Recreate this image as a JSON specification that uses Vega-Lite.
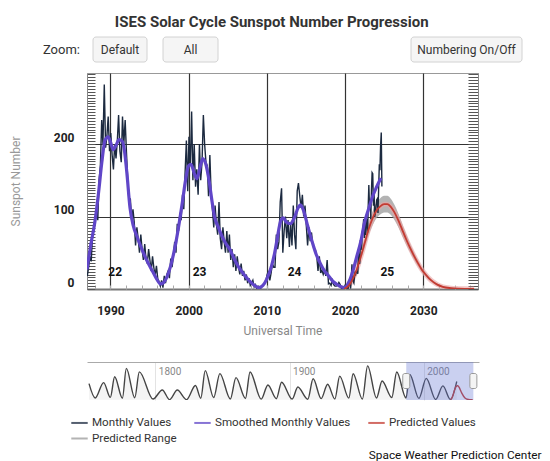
{
  "$schema": "https://vega.github.io/schema/vega-lite/v6.json",
  "padding": {"left": 8, "top": 14, "right": 0, "bottom": 0},
  "title": {"text": "Space Weather Prediction Center", "orient": "bottom", "anchor": "end", "frame": "bounds", "fontSize": 11.8, "fontWeight": "normal", "color": "#111", "offset": 5, "dx": 19},
  "datasets": {
    "monthly": [
      {"t":1987.04,"v":18},{"t":1987.21,"v":30},{"t":1987.38,"v":45},{"t":1987.54,"v":38},{"t":1987.71,"v":75},{"t":1987.88,"v":80},
      {"t":1988.04,"v":95},{"t":1988.21,"v":110},{"t":1988.38,"v":95},{"t":1988.54,"v":150},{"t":1988.71,"v":170},{"t":1988.88,"v":233},
      {"t":1989.04,"v":200},{"t":1989.21,"v":282},{"t":1989.38,"v":195},{"t":1989.54,"v":210},{"t":1989.71,"v":238},{"t":1989.88,"v":190},
      {"t":1990.04,"v":215},{"t":1990.21,"v":185},{"t":1990.38,"v":165},{"t":1990.54,"v":200},{"t":1990.71,"v":180},{"t":1990.88,"v":205},
      {"t":1991.04,"v":240},{"t":1991.21,"v":190},{"t":1991.38,"v":175},{"t":1991.54,"v":238},{"t":1991.71,"v":200},{"t":1991.88,"v":233},
      {"t":1992.04,"v":190},{"t":1992.21,"v":150},{"t":1992.38,"v":119},{"t":1992.54,"v":125},{"t":1992.71,"v":95},{"t":1992.88,"v":110},
      {"t":1993.04,"v":92},{"t":1993.21,"v":60},{"t":1993.38,"v":85},{"t":1993.54,"v":70},{"t":1993.71,"v":50},{"t":1993.88,"v":75},
      {"t":1994.04,"v":55},{"t":1994.21,"v":40},{"t":1994.38,"v":62},{"t":1994.54,"v":42},{"t":1994.71,"v":35},{"t":1994.88,"v":55},
      {"t":1995.04,"v":40},{"t":1995.21,"v":25},{"t":1995.38,"v":45},{"t":1995.54,"v":30},{"t":1995.71,"v":18},{"t":1995.88,"v":32},
      {"t":1996.04,"v":15},{"t":1996.21,"v":10},{"t":1996.38,"v":4},{"t":1996.54,"v":12},{"t":1996.71,"v":2},{"t":1996.88,"v":18},
      {"t":1997.04,"v":8},{"t":1997.21,"v":20},{"t":1997.38,"v":25},{"t":1997.54,"v":15},{"t":1997.71,"v":42},{"t":1997.88,"v":30},
      {"t":1998.04,"v":45},{"t":1998.21,"v":65},{"t":1998.38,"v":50},{"t":1998.54,"v":90},{"t":1998.71,"v":80},{"t":1998.88,"v":105},
      {"t":1999.04,"v":95},{"t":1999.21,"v":130},{"t":1999.38,"v":110},{"t":1999.54,"v":160},{"t":1999.71,"v":205},{"t":1999.88,"v":135},
      {"t":2000.04,"v":210},{"t":2000.21,"v":170},{"t":2000.38,"v":245},{"t":2000.54,"v":150},{"t":2000.71,"v":200},{"t":2000.88,"v":141},
      {"t":2001.04,"v":165},{"t":2001.21,"v":130},{"t":2001.38,"v":200},{"t":2001.54,"v":150},{"t":2001.71,"v":175},{"t":2001.88,"v":240},
      {"t":2002.04,"v":200},{"t":2002.21,"v":175},{"t":2002.38,"v":170},{"t":2002.54,"v":128},{"t":2002.71,"v":185},{"t":2002.88,"v":130},
      {"t":2003.04,"v":110},{"t":2003.21,"v":85},{"t":2003.38,"v":115},{"t":2003.54,"v":90},{"t":2003.71,"v":75},{"t":2003.88,"v":120},
      {"t":2004.04,"v":70},{"t":2004.21,"v":55},{"t":2004.38,"v":85},{"t":2004.54,"v":65},{"t":2004.71,"v":50},{"t":2004.88,"v":80},
      {"t":2005.04,"v":50},{"t":2005.21,"v":75},{"t":2005.38,"v":40},{"t":2005.54,"v":55},{"t":2005.71,"v":30},{"t":2005.88,"v":48},
      {"t":2006.04,"v":25},{"t":2006.21,"v":45},{"t":2006.38,"v":30},{"t":2006.54,"v":20},{"t":2006.71,"v":35},{"t":2006.88,"v":18},
      {"t":2007.04,"v":25},{"t":2007.21,"v":12},{"t":2007.38,"v":20},{"t":2007.54,"v":8},{"t":2007.71,"v":15},{"t":2007.88,"v":5},
      {"t":2008.04,"v":8},{"t":2008.21,"v":12},{"t":2008.38,"v":3},{"t":2008.54,"v":6},{"t":2008.71,"v":1},{"t":2008.88,"v":4},
      {"t":2009.04,"v":2},{"t":2009.21,"v":1},{"t":2009.38,"v":4},{"t":2009.54,"v":6},{"t":2009.71,"v":8},{"t":2009.88,"v":12},
      {"t":2010.04,"v":20},{"t":2010.21,"v":25},{"t":2010.38,"v":12},{"t":2010.54,"v":22},{"t":2010.71,"v":35},{"t":2010.88,"v":30},
      {"t":2011.04,"v":30},{"t":2011.21,"v":75},{"t":2011.38,"v":55},{"t":2011.54,"v":65},{"t":2011.71,"v":120},{"t":2011.88,"v":139},
      {"t":2012.04,"v":50},{"t":2012.21,"v":80},{"t":2012.38,"v":100},{"t":2012.54,"v":70},{"t":2012.71,"v":95},{"t":2012.88,"v":58},
      {"t":2013.04,"v":90},{"t":2013.21,"v":60},{"t":2013.38,"v":115},{"t":2013.54,"v":75},{"t":2013.71,"v":55},{"t":2013.88,"v":135},
      {"t":2014.04,"v":146},{"t":2014.21,"v":128},{"t":2014.38,"v":112},{"t":2014.54,"v":130},{"t":2014.71,"v":100},{"t":2014.88,"v":115},
      {"t":2015.04,"v":88},{"t":2015.21,"v":60},{"t":2015.38,"v":85},{"t":2015.54,"v":66},{"t":2015.71,"v":78},{"t":2015.88,"v":60},
      {"t":2016.04,"v":56},{"t":2016.21,"v":54},{"t":2016.38,"v":45},{"t":2016.54,"v":25},{"t":2016.71,"v":45},{"t":2016.88,"v":22},
      {"t":2017.04,"v":26},{"t":2017.21,"v":20},{"t":2017.38,"v":25},{"t":2017.54,"v":18},{"t":2017.71,"v":40},{"t":2017.88,"v":7},
      {"t":2018.04,"v":8},{"t":2018.21,"v":5},{"t":2018.38,"v":12},{"t":2018.54,"v":6},{"t":2018.71,"v":4},{"t":2018.88,"v":4},
      {"t":2019.04,"v":5},{"t":2019.21,"v":9},{"t":2019.38,"v":6},{"t":2019.54,"v":1},{"t":2019.71,"v":1},{"t":2019.88,"v":1},
      {"t":2020.04,"v":6.2},{"t":2020.13,"v":0.2},{"t":2020.21,"v":1.5},{"t":2020.29,"v":5.2},{"t":2020.38,"v":0.2},{"t":2020.46,"v":5.8},{"t":2020.54,"v":6.1},{"t":2020.63,"v":7.5},{"t":2020.71,"v":0.6},{"t":2020.79,"v":14.4},{"t":2020.88,"v":34},{"t":2020.96,"v":21.8},
      {"t":2021.04,"v":10.4},{"t":2021.13,"v":8.2},{"t":2021.21,"v":17.2},{"t":2021.29,"v":24.5},{"t":2021.38,"v":21.2},{"t":2021.46,"v":25},{"t":2021.54,"v":23.4},{"t":2021.63,"v":21.1},{"t":2021.71,"v":51.3},{"t":2021.79,"v":37.4},{"t":2021.88,"v":34.8},{"t":2021.96,"v":67.5},
      {"t":2022.04,"v":54},{"t":2022.13,"v":59.7},{"t":2022.21,"v":78.5},{"t":2022.29,"v":84.1},{"t":2022.38,"v":96.5},{"t":2022.46,"v":70.5},{"t":2022.54,"v":91.4},{"t":2022.63,"v":74.6},{"t":2022.71,"v":96},{"t":2022.79,"v":95.5},{"t":2022.88,"v":77.6},{"t":2022.96,"v":113.1},
      {"t":2023.04,"v":143.6},{"t":2023.13,"v":110.9},{"t":2023.21,"v":122.8},{"t":2023.29,"v":96.4},{"t":2023.38,"v":137.4},{"t":2023.46,"v":160.5},{"t":2023.54,"v":159.1},{"t":2023.63,"v":114.8},{"t":2023.71,"v":133.6},{"t":2023.79,"v":99.4},{"t":2023.88,"v":105.4},{"t":2023.96,"v":114.2},
      {"t":2024.04,"v":123},{"t":2024.13,"v":124.7},{"t":2024.21,"v":104.9},{"t":2024.29,"v":136.5},{"t":2024.38,"v":172.1},{"t":2024.46,"v":163.9},{"t":2024.54,"v":196.6},{"t":2024.63,"v":216},{"t":2024.71,"v":141.4}
    ],
    "smoothed": [
      {"t":1987.0,"s":27},{"t":1987.5,"s":62},{"t":1988.0,"s":92},{"t":1988.5,"s":135},{"t":1988.9,"s":175},{"t":1989.3,"s":205},{"t":1989.7,"s":210},{"t":1990.0,"s":203},{"t":1990.35,"s":192},{"t":1990.7,"s":198},{"t":1991.1,"s":206},{"t":1991.5,"s":204},{"t":1991.8,"s":190},{"t":1992.1,"s":160},{"t":1992.5,"s":112},{"t":1992.9,"s":88},{"t":1993.4,"s":72},{"t":1993.9,"s":58},{"t":1994.4,"s":45},{"t":1994.9,"s":34},{"t":1995.4,"s":24},{"t":1995.9,"s":14},{"t":1996.4,"s":7},{"t":1996.8,"s":9},{"t":1997.2,"s":16},{"t":1997.7,"s":32},{"t":1998.2,"s":55},{"t":1998.7,"s":85},{"t":1999.2,"s":120},{"t":1999.6,"s":150},{"t":2000.0,"s":170},{"t":2000.3,"s":172},{"t":2000.7,"s":160},{"t":2001.05,"s":152},{"t":2001.4,"s":165},{"t":2001.8,"s":180},{"t":2002.2,"s":172},{"t":2002.6,"s":150},{"t":2003.0,"s":120},{"t":2003.3,"s":100},{"t":2003.8,"s":85},{"t":2004.3,"s":72},{"t":2004.8,"s":62},{"t":2005.3,"s":54},{"t":2005.8,"s":42},{"t":2006.3,"s":32},{"t":2006.8,"s":24},{"t":2007.3,"s":17},{"t":2007.8,"s":11},{"t":2008.3,"s":6},{"t":2008.95,"s":2},{"t":2009.5,"s":5},{"t":2010.0,"s":14},{"t":2010.6,"s":32},{"t":2011.0,"s":50},{"t":2011.3,"s":68},{"t":2011.8,"s":95},{"t":2012.1,"s":98},{"t":2012.5,"s":92},{"t":2013.0,"s":90},{"t":2013.5,"s":98},{"t":2014.0,"s":112},{"t":2014.3,"s":116},{"t":2014.7,"s":108},{"t":2015.1,"s":92},{"t":2015.5,"s":76},{"t":2015.8,"s":65},{"t":2016.3,"s":48},{"t":2016.8,"s":36},{"t":2017.3,"s":26},{"t":2017.9,"s":18},{"t":2018.5,"s":10},{"t":2019.0,"s":6},{"t":2019.5,"s":3},{"t":2019.95,"s":2},{"t":2020.5,"s":10},{"t":2021.0,"s":25},{"t":2021.5,"s":45},{"t":2022.0,"s":65},{"t":2022.5,"s":92},{"t":2023.0,"s":110},{"t":2023.5,"s":127},{"t":2024.0,"s":140},{"t":2024.3,"s":147},{"t":2024.6,"s":153}
    ],
    "predicted": [
      {"t":2019.9,"p":0,"lo":0,"hi":1},{"t":2020.5,"p":5,"lo":3.6,"hi":6.5},{"t":2021.0,"p":14,"lo":11.7,"hi":16.3},{"t":2021.5,"p":27,"lo":23.6,"hi":30.4},{"t":2022.0,"p":44,"lo":39,"hi":49},{"t":2022.5,"p":63,"lo":56.3,"hi":69.7},{"t":2023.0,"p":82,"lo":73.6,"hi":90.4},{"t":2023.5,"p":97,"lo":87.3,"hi":106.7},{"t":2024.0,"p":108,"lo":97.3,"hi":118.7},{"t":2024.5,"p":114,"lo":102.7,"hi":125.3},{"t":2025.0,"p":117,"lo":105.5,"hi":128.5},{"t":2025.4,"p":117,"lo":105.5,"hi":128.5},{"t":2025.8,"p":114,"lo":102.7,"hi":125.3},{"t":2026.3,"p":106,"lo":95.5,"hi":116.5},{"t":2026.8,"p":95,"lo":85.5,"hi":104.6},{"t":2027.3,"p":82,"lo":73.6,"hi":90.4},{"t":2027.8,"p":69,"lo":61.8,"hi":76.2},{"t":2028.3,"p":57,"lo":50.9,"hi":63.1},{"t":2028.8,"p":46,"lo":40.9,"hi":51.1},{"t":2029.3,"p":36,"lo":31.8,"hi":40.2},{"t":2029.8,"p":27,"lo":23.6,"hi":30.4},{"t":2030.3,"p":20,"lo":17.2,"hi":22.8},{"t":2030.8,"p":14,"lo":11.7,"hi":16.3},{"t":2031.3,"p":9.5,"lo":7.6,"hi":11.4},{"t":2031.8,"p":6,"lo":4.5,"hi":7.5},{"t":2032.5,"p":3,"lo":1.7,"hi":4.3},{"t":2033.5,"p":1.2,"lo":0.1,"hi":2.3},{"t":2034.5,"p":0.5,"lo":0,"hi":1.5},{"t":2035.5,"p":0.2,"lo":0,"hi":1.2},{"t":2036.5,"p":0,"lo":0,"hi":1}
    ],
    "cycles": [
      {"t":1990.6,"c":"22"},{"t":2001.4,"c":"23"},{"t":2013.55,"c":"24"},{"t":2025.4,"c":"25"}
    ],
    "nav": [
      {"t":1750.6,"v":135},{"t":1755.2,"v":14},{"t":1761.5,"v":144},{"t":1766.5,"v":19},{"t":1769.7,"v":193},{"t":1775.5,"v":12},{"t":1778.4,"v":264},{"t":1784.7,"v":16},{"t":1788.1,"v":235},{"t":1798.3,"v":5},{"t":1805.2,"v":82},{"t":1810.6,"v":0},{"t":1816.4,"v":81},{"t":1823.3,"v":0},{"t":1829.9,"v":119},{"t":1833.9,"v":12},{"t":1837.2,"v":245},{"t":1843.5,"v":18},{"t":1848.1,"v":220},{"t":1855.9,"v":6},{"t":1860.1,"v":186},{"t":1867.2,"v":10},{"t":1870.6,"v":234},{"t":1878.9,"v":4},{"t":1883.9,"v":124},{"t":1890.2,"v":8},{"t":1894.1,"v":147},{"t":1902.0,"v":5},{"t":1906.2,"v":107},{"t":1913.6,"v":3},{"t":1917.6,"v":176},{"t":1923.6,"v":9},{"t":1928.4,"v":130},{"t":1933.8,"v":6},{"t":1937.4,"v":199},{"t":1944.2,"v":13},{"t":1947.4,"v":219},{"t":1954.3,"v":5},{"t":1958.2,"v":285},{"t":1964.8,"v":14},{"t":1969.0,"v":157},{"t":1976.2,"v":18},{"t":1979.9,"v":233},{"t":1986.8,"v":14},{"t":1989.6,"v":213},{"t":1996.4,"v":11},{"t":2001.9,"v":180},{"t":2008.9,"v":2},{"t":2014.3,"v":116},{"t":2019.9,"v":2},{"t":2024.6,"v":153}
    ],
    "window": [{"start":1987,"end":2037}]
  },
  "vconcat": [
    {
      "vconcat": [
        {
          "title": {"text": "ISES Solar Cycle Sunspot Number Progression", "fontSize": 15, "fontWeight": "bold", "color": "#333", "anchor": "middle", "dx": -11, "offset": 7},
          "spacing": 0,
          "hconcat": [
            {
              "width": 5, "height": 25,
              "data": {"values": [{"label": "Zoom:"}]},
              "mark": {"type": "text", "align": "right", "dx": -7, "fontSize": 13, "color": "#333"},
              "encoding": {"x": {"value": 0}, "text": {"field": "label"}}
            },
            {
              "spacing": 14,
              "hconcat": [
                {
                  "width": 54, "height": 25,
                  "data": {"values": [{"label": "Default"}]},
                  "layer": [
                    {"mark": {"type": "rect", "fill": "#f5f5f5", "stroke": "#d2d2d2", "cornerRadius": 3}, "encoding": {}},
                    {"mark": {"type": "text", "fontSize": 12, "color": "#333"}, "encoding": {"text": {"field": "label"}}}
                  ]
                },
                {
                  "width": 55, "height": 25,
                  "data": {"values": [{"label": "All"}]},
                  "layer": [
                    {"mark": {"type": "rect", "fill": "#f5f5f5", "stroke": "#d2d2d2", "cornerRadius": 3}, "encoding": {}},
                    {"mark": {"type": "text", "fontSize": 12, "color": "#333"}, "encoding": {"text": {"field": "label"}}}
                  ]
                },
                {
                  "width": 163, "height": 25,
                  "data": {"values": []},
                  "mark": "point",
                  "encoding": {}
                },
                {
                  "width": 111, "height": 25,
                  "data": {"values": [{"label": "Numbering On/Off"}]},
                  "layer": [
                    {"mark": {"type": "rect", "fill": "#f5f5f5", "stroke": "#d2d2d2", "cornerRadius": 3}, "encoding": {}},
                    {"mark": {"type": "text", "fontSize": 12, "color": "#333"}, "encoding": {"text": {"field": "label"}}}
                  ]
                }
              ]
            }
          ]
        },
        {
          "width": 391, "height": 216,
          "view": {"stroke": "#999", "strokeWidth": 1},
          "layer": [
            {
              "data": {"name": "predicted"},
              "mark": {"type": "area", "opacity": 0.75, "interpolate": "monotone", "clip": true},
              "encoding": {
                "x": {"field": "t", "type": "quantitative", "scale": {"domain": [1987, 2037], "nice": false, "zero": false},
                  "axis": {"orient": "bottom", "values": [1990, 2000, 2010, 2020, 2030], "format": "d", "grid": true, "gridColor": "#333", "gridWidth": 1.2, "ticks": false, "tickSize": 0, "domain": true, "domainColor": "#777", "domainWidth": 2, "labelPadding": 16, "labelFontSize": 12, "labelFontWeight": "bold", "labelColor": "#222", "labelFlush": false, "title": "Universal Time", "titleFontSize": 12, "titleFontWeight": "normal", "titleColor": "#888", "titlePadding": 9}},
                "y": {"field": "lo", "type": "quantitative", "scale": {"domain": [0, 298], "nice": false},
                  "axis": {"orient": "left", "values": [0, 100, 200], "grid": true, "gridColor": "#333", "gridWidth": 1.2, "ticks": false, "tickSize": 0, "domain": false, "labelPadding": 13, "labelFontSize": 12, "labelFontWeight": "bold", "labelColor": "#222", "labelBaseline": "alphabetic", "labelOffset": -3, "minExtent": 36, "title": "Sunspot Number", "titleFontSize": 12, "titleFontWeight": "normal", "titleColor": "#999", "titlePadding": 29}},
                "y2": {"field": "hi"},
                "color": {"datum": "Predicted Range", "type": "nominal",
                  "scale": {"domain": ["Monthly Values", "Smoothed Monthly Values", "Predicted Values", "Predicted Range"], "range": ["#1c2a40", "#6046c8", "#c43b32", "#9a9a9a"]},
                  "legend": {"orient": "none", "legendX": -17, "legendY": 376, "title": null, "direction": "horizontal", "columns": 3, "padding": 0,
                    "symbolSize": 270, "symbolType": "stroke", "symbolStrokeWidth": 2, "labelFontSize": 11.6, "labelColor": "#333", "labelOffset": 3, "columnPadding": 13, "rowPadding": 0,
                    "encode": {"symbols": {"update": {
                      "shape": {"signal": "datum.value === 'Monthly Values' ? 'M-1,0L1,0M0,-0.38L0.38,0L0,0.38L-0.38,0Z' : 'stroke'"},
                      "strokeWidth": {"signal": "datum.value === 'Predicted Range' ? 5 : 2"},
                      "stroke": {"scale": "color", "field": "value"},
                      "fill": {"scale": "color", "field": "value"},
                      "opacity": {"value": 1}
                    }}}}}
              }
            },
            {
              "data": {"name": "predicted"},
              "mark": {"type": "line", "color": "#eaa4a4", "strokeWidth": 5, "opacity": 0.6, "interpolate": "monotone", "clip": true},
              "encoding": {
                "x": {"field": "t", "type": "quantitative", "axis": null},
                "y": {"field": "p", "type": "quantitative", "axis": null}
              }
            },
            {
              "data": {"name": "monthly"},
              "mark": {"type": "line", "strokeWidth": 1.4, "clip": true},
              "encoding": {
                "x": {"field": "t", "type": "quantitative",
                  "axis": {"orient": "bottom", "values": [1988,1990,1992,1994,1996,1998,2000,2002,2004,2006,2008,2010,2012,2014,2016,2018,2020,2022,2024,2026,2028,2030,2032,2034,2036], "ticks": true, "tickSize": -4, "tickColor": "#aaa", "tickWidth": 1, "labels": false, "domain": false, "grid": false, "title": null}},
                "y": {"field": "v", "type": "quantitative",
                  "axis": {"orient": "left", "values": [0,4,8,12,16,20,24,28,32,36,40,44,48,52,56,60,64,68,72,76,80,84,88,92,96,100,104,108,112,116,120,124,128,132,136,140,144,148,152,156,160,164,168,172,176,180,184,188,192,196,200,204,208,212,216,220,224,228,232,236,240,244,248,252,256,260,264,268,272,276,280,284,288,292,296], "ticks": true, "tickSize": -8, "tickColor": "#555", "tickWidth": 1, "labels": false, "domain": true, "domainColor": "#888", "grid": false, "title": null}},
                "color": {"datum": "Monthly Values", "type": "nominal"}
              }
            },
            {
              "data": {"name": "smoothed"},
              "mark": {"type": "line", "strokeWidth": 3.2, "interpolate": "monotone", "clip": true},
              "encoding": {
                "x": {"field": "t", "type": "quantitative", "axis": null},
                "y": {"field": "s", "type": "quantitative",
                  "axis": {"orient": "right", "values": [0,4,8,12,16,20,24,28,32,36,40,44,48,52,56,60,64,68,72,76,80,84,88,92,96,100,104,108,112,116,120,124,128,132,136,140,144,148,152,156,160,164,168,172,176,180,184,188,192,196,200,204,208,212,216,220,224,228,232,236,240,244,248,252,256,260,264,268,272,276,280,284,288,292,296], "ticks": true, "tickSize": -10, "tickColor": "#555", "tickWidth": 1, "labels": false, "domain": true, "domainColor": "#888", "grid": false, "title": null}},
                "color": {"datum": "Smoothed Monthly Values", "type": "nominal"}
              }
            },
            {
              "data": {"name": "predicted"},
              "mark": {"type": "line", "strokeWidth": 1.8, "interpolate": "monotone", "clip": true},
              "encoding": {
                "x": {"field": "t", "type": "quantitative", "axis": null},
                "y": {"field": "p", "type": "quantitative", "axis": null},
                "color": {"datum": "Predicted Values", "type": "nominal"}
              }
            },
            {
              "data": {"name": "cycles"},
              "mark": {"type": "text", "fontWeight": "bold", "fontSize": 12, "color": "#111"},
              "encoding": {
                "x": {"field": "t", "type": "quantitative", "axis": null},
                "y": {"datum": 24, "type": "quantitative", "axis": null},
                "text": {"field": "c"}
              }
            }
          ],
          "resolve": {"axis": {"x": "independent", "y": "independent"}}
        }
      ],
      "spacing": 9
    },
    {
      "width": 392, "height": 38,
      "layer": [
        {
          "data": {"name": "nav"},
          "mark": {"type": "area", "color": "#777", "opacity": 0.08, "interpolate": "monotone", "clip": true},
          "encoding": {
            "x": {"field": "t", "type": "quantitative", "scale": {"domain": [1749.1, 2041.2], "nice": false, "zero": false},
              "axis": {"orient": "top", "values": [1800, 1900, 2000], "format": "d", "grid": true, "gridColor": "#e3e3e3", "gridWidth": 1, "ticks": false, "tickSize": 0, "domain": true, "domainColor": "#aaa", "domainWidth": 1, "labelPadding": -9, "labelBaseline": "middle", "labelAlign": "left", "labelOffset": 3, "labelFontSize": 10, "labelColor": "#888", "labelFlush": false, "labelOverlap": false, "title": null}},
            "y": {"field": "v", "type": "quantitative", "scale": {"domain": [-3, 318], "nice": false}, "axis": null}
          }
        },
        {
          "data": {"name": "nav"},
          "mark": {"type": "line", "color": "#444", "strokeWidth": 1.4, "interpolate": "monotone", "clip": true},
          "encoding": {
            "x": {"field": "t", "type": "quantitative"},
            "y": {"field": "v", "type": "quantitative"}
          }
        },
        {
          "data": {"name": "predicted"},
          "mark": {"type": "line", "color": "#c43b32", "strokeWidth": 1.4, "interpolate": "monotone", "clip": true},
          "encoding": {
            "x": {"field": "t", "type": "quantitative"},
            "y": {"field": "p", "type": "quantitative"}
          }
        },
        {
          "data": {"name": "window"},
          "mark": {"type": "rect", "color": "#5d6fd0", "opacity": 0.33},
          "encoding": {
            "x": {"field": "start", "type": "quantitative"},
            "x2": {"field": "end"}
          }
        },
        {
          "data": {"name": "window"},
          "transform": [{"fold": ["start", "end"], "as": ["edge", "t"]}],
          "mark": {"type": "tick", "orient": "vertical", "size": 15, "thickness": 7, "color": "#f4f4f4", "opacity": 1, "stroke": "#999", "strokeWidth": 1, "cornerRadius": 2},
          "encoding": {
            "x": {"field": "t", "type": "quantitative"}
          }
        }
      ]
    }
  ],
  "spacing": 25,
  "config": {
    "font": "Roboto",
    "view": {"stroke": null},
    "axis": {"labelFont": "Roboto", "titleFont": "Roboto"},
    "legend": {"labelFont": "Roboto"},
    "title": {"font": "Roboto"}
  }
}
